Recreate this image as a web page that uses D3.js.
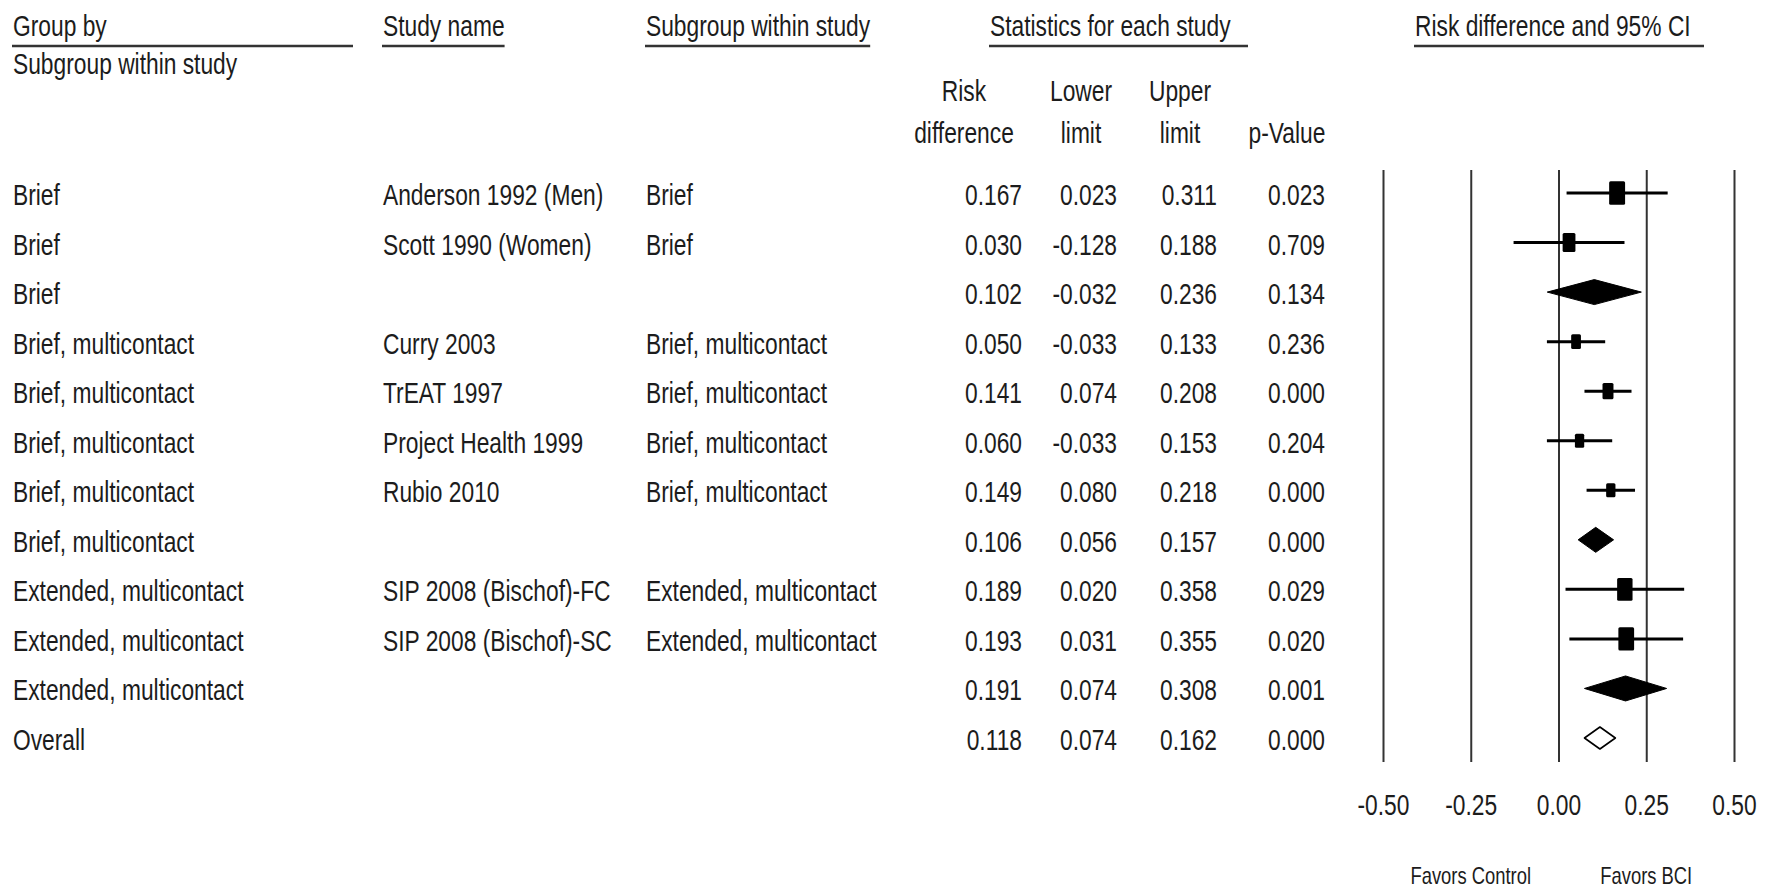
<!DOCTYPE html>
<html>
<head>
<meta charset="utf-8">
<script src="https://cdn.jsdelivr.net/npm/d3@7"></script>
<style>
  html, body { margin: 0; padding: 0; background: #fff; }
  svg text { font-family: "Liberation Sans", Arial, Helvetica, sans-serif; fill: #1c1c1c; }
</style>
</head>
<body>
<script>
// Forest plot: risk difference of BCI vs control, grouped by intervention subgroup

const groupBy = [
  "Brief", "Brief", "Brief",
  "Brief, multicontact", "Brief, multicontact", "Brief, multicontact",
  "Brief, multicontact", "Brief, multicontact",
  "Extended, multicontact", "Extended, multicontact", "Extended, multicontact",
  "Overall"
];
const studyNames = [
  "Anderson 1992 (Men)", "Scott 1990 (Women)", "",
  "Curry 2003", "TrEAT 1997", "Project Health 1999", "Rubio 2010", "",
  "SIP 2008 (Bischof)-FC", "SIP 2008 (Bischof)-SC", "",
  ""
];
const subgroups = [
  "Brief", "Brief", "",
  "Brief, multicontact", "Brief, multicontact", "Brief, multicontact", "Brief, multicontact", "",
  "Extended, multicontact", "Extended, multicontact", "",
  ""
];
const rowKind = [
  "study", "study", "subtotal",
  "study", "study", "study", "study", "subtotal",
  "study", "study", "subtotal",
  "overall"
];
const riskDiff = [0.167, 0.030, 0.102, 0.050, 0.141, 0.060, 0.149, 0.106, 0.189, 0.193, 0.191, 0.118];
const lowerLimit = [0.023, -0.128, -0.032, -0.033, 0.074, -0.033, 0.080, 0.056, 0.020, 0.031, 0.074, 0.074];
const upperLimit = [0.311, 0.188, 0.236, 0.133, 0.208, 0.153, 0.218, 0.157, 0.358, 0.355, 0.308, 0.162];
const pValues = ["0.023", "0.709", "0.134", "0.236", "0.000", "0.204", "0.000", "0.000", "0.029", "0.020", "0.001", "0.000"];
// relative study weights (%), shown as the size of each study's box
const relWeight = [19.7, 12.7, 0, 7.4, 9.3, 6.7, 6.7, 0, 18.4, 19.2, 0, 0];

const tickValues = [-0.50, -0.25, 0.00, 0.25, 0.50];
const favorLabels = ["Favors Control", "Favors BCI"];

const rows = groupBy.map((g, i) => ({
  i, group: g, study: studyNames[i], sub: subgroups[i], kind: rowKind[i],
  rd: riskDiff[i], lo: lowerLimit[i], hi: upperLimit[i], p: pValues[i], w: relWeight[i]
}));

const W = 1775, H = 889;
const FS = 30, SX = 0.76;
// plain hyphen-minus for negative numbers
const hyphen = f => v => f(v).replace("\u2212", "-");
const fmt3 = hyphen(d3.format(".3f"));
const fmt2 = hyphen(d3.format(".2f"));

const svg = d3.select("body").append("svg").attr("width", W).attr("height", H);

function label(g, x, y, s, anchor = "start", size = FS, sx = SX) {
  return g.append("text")
    .attr("transform", `translate(${x},${y}) scale(${sx},1)`)
    .attr("text-anchor", anchor)
    .style("font-size", size + "px")
    .text(s);
}

// ---- column headers ----
const head = svg.append("g");
const headBase = 36, ruleY = 46;
const headers = [
  { x: 13, text: "Group by", ruleTo: 353 },
  { x: 383, text: "Study name" },
  { x: 646, text: "Subgroup within study" },
  { x: 990, text: "Statistics for each study", ruleTo: 1248 },
  { x: 1415, text: "Risk difference and 95% CI", ruleTo: 1704 }
];
headers.forEach(h => {
  const t = label(head, h.x, headBase, h.text);
  const end = h.ruleTo || (h.x + t.node().getComputedTextLength() * SX);
  head.append("line")
    .attr("x1", h.x - 1).attr("x2", end)
    .attr("y1", ruleY).attr("y2", ruleY)
    .attr("stroke", "#333").attr("stroke-width", 2.6);
});
label(head, 13, 74, "Subgroup within study");

const statCols = [
  { right: 1022, center: 964, top: "Risk", bottom: "difference", key: d => fmt3(d.rd) },
  { right: 1117, center: 1081, top: "Lower", bottom: "limit", key: d => fmt3(d.lo) },
  { right: 1217, center: 1180, top: "Upper", bottom: "limit", key: d => fmt3(d.hi) },
  { right: 1325, center: 1287, top: "", bottom: "p-Value", key: d => d.p }
];
statCols.forEach(c => {
  if (c.top) label(head, c.center, 101, c.top, "middle");
  label(head, c.center, 143, c.bottom, "middle");
});

// ---- table rows ----
const y = d3.scalePoint().domain(d3.range(rows.length)).range([193, 738]);
const base = 12;
const table = svg.append("g");
rows.forEach(d => {
  const cy = y(d.i) + base;
  label(table, 13, cy, d.group);
  if (d.study) label(table, 383, cy, d.study);
  if (d.sub) label(table, 646, cy, d.sub);
  statCols.forEach(c => label(table, c.right, cy, c.key(d), "end"));
});

// ---- plot ----
const x = d3.scaleLinear().domain([-0.5, 0.5]).range([1383, 1734]);
const plotTop = 170, plotBottom = 762;

const axis = d3.axisBottom(x)
  .tickValues(tickValues)
  .tickFormat(fmt2)
  .tickSize(-(plotBottom - plotTop))
  .tickPadding(32);

const axG = svg.append("g").attr("transform", `translate(0,${plotBottom})`).call(axis);
axG.select(".domain").remove();
axG.selectAll(".tick line").attr("stroke", "#333").attr("stroke-width", 2);
axG.selectAll(".tick text")
  .attr("fill", "#1c1c1c")
  .style("font-size", FS + "px")
  .style("font-family", '"Liberation Sans", Arial, sans-serif')
  .attr("transform", `scale(${SX},1)`);

// favours labels under the negative and positive halves
const favG = svg.append("g");
label(favG, x(-0.25), 884, favorLabels[0], "middle", 23, 0.8);
label(favG, x(0.25), 884, favorLabels[1], "middle", 23, 0.8);

const marks = svg.append("g");
const boxSide = d3.scaleSqrt().domain([0, 20]).range([0, 19.6]);

rows.forEach(d => {
  const cy = y(d.i);
  if (d.kind === "study") {
    marks.append("line")
      .attr("x1", x(d.lo)).attr("x2", x(d.hi))
      .attr("y1", cy).attr("y2", cy)
      .attr("stroke", "#000").attr("stroke-width", 3);
    const s = boxSide(d.w);
    const bw = s * 0.82, bh = s * 1.22;
    marks.append("rect")
      .attr("x", x(d.rd) - bw / 2).attr("y", cy - bh / 2)
      .attr("width", bw).attr("height", bh)
      .attr("rx", 1.5)
      .attr("fill", "#000");
  } else {
    const h = d.kind === "overall" ? 22 : 25;
    const pts = [[x(d.lo), cy], [x(d.rd), cy - h / 2], [x(d.hi), cy], [x(d.rd), cy + h / 2]];
    marks.append("path")
      .attr("d", d3.line()(pts) + "Z")
      .attr("fill", d.kind === "overall" ? "#fff" : "#000")
      .attr("stroke", "#000")
      .attr("stroke-width", d.kind === "overall" ? 1.6 : 1)
      .attr("stroke-linejoin", "round");
  }
});
</script>
</body>
</html>
